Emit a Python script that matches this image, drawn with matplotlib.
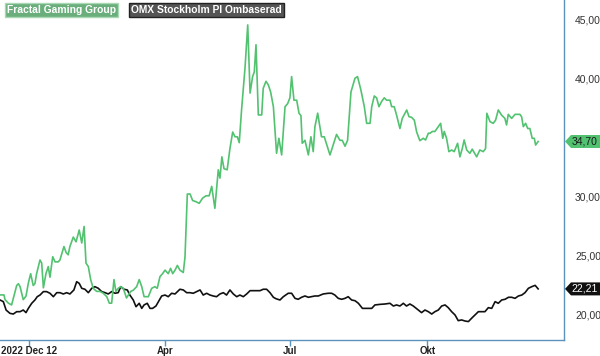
import matplotlib
matplotlib.use("Agg")
import matplotlib.pyplot as plt
from matplotlib.patches import Polygon

plt.rcParams['font.family'] = ['Liberation Sans', 'DejaVu Sans']

# ---- data (trading-day index, value) ----
fractal_day = [0, 2.2, 2.7, 4.3, 5.8, 6.9, 8.2, 9, 9.8, 11.3, 12.6, 13.7, 14.8, 16, 16.8, 17.6,
               19.2, 20, 20.8, 22, 23.1, 23.9, 25.2, 26.3, 27.8, 28.6, 30.5, 31.5, 32.5, 33.3,
               34.9, 36.2, 37.7, 38.9, 40, 40.9, 42, 43.1, 44.3, 45.9, 47.5, 49, 50.7, 51.9,
               53, 54.1, 55, 56.1, 57.3, 58.5, 60, 62, 63.2, 64.8, 66, 67.2, 68.3, 70.3, 71.9,
               73.4, 74.5, 75.8, 77, 78.2, 79.7, 80.8, 81.8, 82.9, 84, 85.2, 86.8, 87.6, 88.7,
               90, 91.2, 92.8, 94.3, 95.9, 97.5, 99, 100.2, 101.7, 103.3, 104.1, 105, 106,
               107.5, 108.8, 110.1, 111.2, 112.3, 113.2, 114.3, 115.9, 117.2, 118.3, 119.5,
               120.3, 121.1, 122.2, 123.8, 124.5, 125.8, 126.9, 128, 129.3, 130.8, 131.9,
               133.2, 134.8, 136, 137.1, 137.9, 139, 140.3, 141.4, 142.3, 142.9, 144.2, 145.8,
               147, 148.1, 148.9, 150.2, 152, 153.3, 156, 159.1, 160.7, 161.8, 163.1, 164.3,
               165.9, 167.8, 169, 170.6, 172.2, 173.3, 174.9, 175.7, 176.9, 178, 179.1, 180.4,
               181.6, 182.7, 184.3, 185.1, 186.3, 187.4, 189, 190.1, 192.2, 193.3, 194.5,
               195.8, 196.9, 198.4, 200, 201.1, 202.4, 203.2, 204.3, 205.5, 207.1, 208.2,
               209.2, 209.9, 211, 212.1, 213.4, 214.6, 216.2, 217.3, 218.4, 219.3, 220.5, 222,
               223.1, 225.2, 226.7, 228.3, 229.4, 230, 231.5, 233, 234.1, 235.4, 236.9, 238.5,
               239.3, 240.1, 241.7, 243.3, 245.6, 246.4, 247.2, 248.3, 249.3, 250.3, 251.4,
               252.4, 253, 254.2]
fractal_val = [21.7, 21.7, 21.3, 21.0, 20.85, 21.6, 22.5, 22.65, 22.4, 21.3, 21.6, 22.7, 23.5, 22.5,
               22.65, 23.5, 24.66, 24.4, 22.3, 23.5, 24.1, 23.2, 24.94, 24.5, 24.5, 24.66, 25.8,
               25.3, 25.1, 25.8, 26.6, 26.2, 27.2, 26.1, 27.5, 24.4, 24.1, 23.0, 22.26, 22.0, 22.0,
               21.85, 21.55, 21.0, 21.0, 23.0, 22.0, 22.26, 22.4, 22.26, 21.44, 22.0, 22.1, 22.4,
               23.0, 22.4, 21.55, 21.55, 22.26, 22.4, 22.26, 23.25, 23.5, 23.8, 23.5, 23.95, 23.5,
               23.8, 24.2, 23.8, 23.6, 24.9, 30.25, 30.25, 29.7, 29.6, 29.46, 29.9, 30.1, 30.1,
               30.9, 29.04, 32.3, 31.6, 33.4, 32.4, 32.3, 34.1, 35.5, 35.1, 35.1, 34.6, 37.4, 40.9,
               44.58, 38.8, 40.2, 40.6, 42.9, 36.95, 36.95, 39.2, 39.8, 39.5, 38.9, 37.65, 33.7,
               34.97, 33.56, 37.65, 37.9, 38.4, 40.2, 38.2, 38.2, 37.09, 36.9, 34.55, 34.8, 33.56,
               35.1, 33.84, 35.96, 37.1, 35.1, 35.1, 33.56, 35.3, 34.8, 34.8, 34.3, 34.8, 38.9,
               40.06, 40.2, 39.05, 37.65, 36.24, 36.24, 37.65, 38.56, 38.4, 37.65, 38.1, 38.4,
               38.2, 38.2, 37.65, 37.65, 36.95, 35.8, 36.66, 37.37, 36.8, 36.75, 36.5, 35.5, 34.77,
               34.97, 34.83, 35.4, 35.4, 35.55, 35.55, 35.96, 36.24, 34.97, 35.55, 34.97, 33.84,
               33.98, 33.84, 34.55, 33.4, 34.1, 34.83, 33.98, 33.7, 34.05, 33.4, 33.98, 33.84,
               34.1, 37.09, 36.38, 36.24, 36.5, 37.37, 36.95, 36.66, 36.1, 37.0, 36.66, 37.0,
               37.0, 36.8, 35.96, 36.24, 35.8, 35.8, 34.97, 34.97, 34.4, 34.7]

omx_day = [0.33, 1.9, 3.2, 5.0, 6.6, 8.2, 9.8, 11.3, 12.6, 13.7, 15.3, 16.8, 17.9, 19.2, 20.8, 22.3,
           23.9, 25.5, 27.1, 28.6, 30.2, 31.8, 33.3, 35.2, 36.5, 37.7, 38.9, 40.4, 42, 43.6, 45.1,
           46.7, 48.3, 49.9, 51.4, 53, 54.6, 56.1, 57.3, 58.8, 60.4, 61.6, 63.2, 64.5, 66, 67.2,
           68.3, 69.8, 71.1, 72.3, 73.9, 75.5, 76.6, 78.2, 79.7, 81.3, 82.9, 85.2, 86.8, 88.4,
           89.9, 91.5, 93.1, 94.7, 96.2, 97.8, 99.4, 100.9, 102.5, 104.1, 105.7, 107.2, 108.8,
           110.4, 112, 113.5, 115.1, 116.7, 118.3, 119.8, 121.4, 123, 124.5, 126.1, 127.7, 129.3,
           130.5, 132.4, 134, 136.3, 137.9, 139.5, 141, 142.6, 144.2, 145.8, 147.3, 148.9, 150.5,
           152.8, 155.2, 156.8, 158.3, 159.9, 161.5, 163.1, 164.6, 166.2, 167.8, 169.4, 171.3,
           173.3, 175.7, 177.2, 179.6, 181.9, 184.3, 185.9, 187.4, 189, 190.6, 192.1, 193.7,
           195.3, 197.7, 199.2, 200.8, 202.4, 204, 205.5, 207.1, 208.7, 210.3, 211.8, 213.4, 215,
           216.5, 218.1, 219.7, 221.3, 222.8, 224.4, 226, 227.6, 229.1, 230.7, 232.3, 233.9,
           235.4, 237, 238.6, 240.2, 241.7, 243.3, 244.9, 246.5, 248, 249.6, 251.2, 252.8, 254.2]
omx_val = [21.27, 21.13, 20.42, 20.14, 20.08, 20.28, 20.28, 20.42, 20.2, 20.56, 20.99, 21.27, 21.55,
           21.69, 21.98, 21.98, 21.84, 21.55, 21.89, 21.89, 21.78, 21.89, 21.78, 22.12, 22.82,
           22.68, 22.26, 22.18, 21.89, 22.26, 22.4, 22.26, 21.98, 21.89, 21.78, 21.98, 21.84,
           21.89, 22.4, 22.18, 22.12, 21.69, 21.27, 20.7, 20.99, 20.56, 20.85, 20.99, 20.56,
           20.56, 20.76, 21.27, 21.61, 21.69, 21.55, 21.84, 21.78, 22.18, 22.12, 21.89, 21.89,
           21.84, 21.98, 22.12, 21.69, 21.84, 21.69, 21.61, 21.55, 21.78, 21.89, 21.69, 22.12,
           21.78, 21.55, 21.69, 21.55, 21.78, 22.06, 22.06, 22.06, 22.06, 22.18, 22.18, 21.89,
           21.5, 21.38, 21.27, 21.55, 21.84, 21.84, 21.41, 21.33, 21.5, 21.61, 21.5, 21.55, 21.61,
           21.61, 21.78, 21.84, 21.84, 21.69, 21.41, 21.33, 21.41, 21.55, 21.27, 21.21, 20.99,
           20.56, 20.56, 20.56, 20.85, 20.9, 20.93, 20.99, 20.76, 20.85, 20.76, 20.99, 20.76,
           20.93, 20.76, 20.42, 20.2, 20.42, 20.28, 20.08, 20.28, 20.42, 20.76, 20.85, 20.62,
           20.28, 20.0, 19.52, 19.58, 19.49, 19.44, 19.72, 20.0, 20.28, 20.28, 20.28, 20.62,
           20.56, 21.13, 20.99, 21.27, 21.33, 21.5, 21.5, 21.41, 21.61, 21.69, 21.89, 22.26,
           22.4, 22.51, 22.21]

tick_days = [14, 78, 137, 202]
tick_labels = ["2022 Dec 12", "Apr", "Jul", "Okt"]
y_ticks = [20, 25, 30, 40, 45]
series_names = ["Fractal Gaming Group", "OMX Stockholm PI Ombaserad"]
last_fractal = 34.70
last_omx = 22.21

GREEN = '#52c270'
AXC = '#5b93bd'

W, H = 600, 356
fig = plt.figure(figsize=(W / 100, H / 100), dpi=100)
ax = fig.add_axes([0, 16 / H, 564 / W, 340 / H])

ax.plot(omx_day, omx_val, color='#111111', lw=1.2, solid_joinstyle='round')
ax.plot(fractal_day, fractal_val, color=GREEN, lw=1.2, solid_joinstyle='round')

ax.set_xlim(0.33, 266.4)
ax.set_ylim(17.88, 46.69)

for s in ['left', 'top']:
    ax.spines[s].set_visible(False)
for s in ['right', 'bottom']:
    ax.spines[s].set_color(AXC)
    ax.spines[s].set_linewidth(1.0)

ax.set_xticks(tick_days)
ax.set_xticklabels(tick_labels, fontsize=7.0, fontweight='bold', color='#222222')
ax.tick_params(axis='x', length=4, width=1, color=AXC, pad=0.5)

ax.yaxis.tick_right()
ax.set_yticks(y_ticks)
ax.set_yticklabels([f"{v:.2f}".replace('.', ',') for v in y_ticks],
                   fontsize=7.5, color='#333333')
ax.tick_params(axis='y', length=0, pad=8)

# price tags
fig.canvas.draw()

def tag(value, fc, tc):
    yd = ax.transData.transform((0, value))[1]
    fy = yd / H
    h = 6.5 / H
    x0 = 565 / W
    xp = 571 / W
    x1 = 600 / W
    poly = Polygon([(x0, fy), (xp, fy + h), (x1, fy + h), (x1, fy - h), (xp, fy - h)],
                   closed=True, transform=fig.transFigure, fc=fc, ec='none', zorder=5)
    fig.patches.append(poly)
    fig.text(585 / W, fy, f"{value:.2f}".replace('.', ','), ha='center', va='center',
             fontsize=7.5, color=tc, zorder=6)

tag(last_fractal, GREEN, '#1a1a1a')
tag(last_omx, '#111111', 'white')

# legend boxes
fig.text(7 / W, 1 - 10 / H, series_names[0], ha='left', va='center', fontsize=7.4,
         fontweight='bold', color='white',
         bbox=dict(boxstyle='square,pad=0.22', fc='#6aae7c', ec='#a9d9b4', lw=1))
fig.text(131 / W, 1 - 10 / H, series_names[1], ha='left', va='center', fontsize=7.4,
         fontweight='bold', color='white',
         bbox=dict(boxstyle='square,pad=0.22', fc='#555555', ec='#222222', lw=1))

fig.savefig('out.png', dpi=100)
